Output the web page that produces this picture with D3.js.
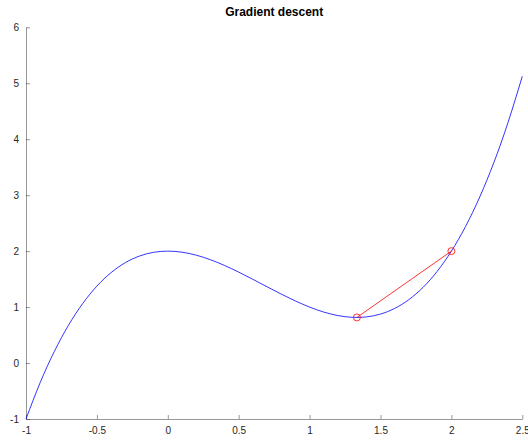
<!DOCTYPE html>
<html><head><meta charset="utf-8">
<script src="https://cdn.jsdelivr.net/npm/d3@7"></script>
<style>body{margin:0;background:#fff}svg{display:block}</style>
</head><body>
<script>
const curveX = [-1,-0.9,-0.8,-0.7,-0.6,-0.5,-0.4,-0.3,-0.2,-0.1,0,0.1,0.2,0.3,0.4,0.5,0.6,0.7,0.8,0.9,1,1.1,1.2,1.3,1.4,1.5,1.6,1.7,1.8,1.9,2,2.1,2.2,2.3,2.4,2.5];
const curveY = [-1,-0.349,0.208,0.677,1.064,1.375,1.616,1.793,1.912,1.979,2,1.981,1.928,1.847,1.744,1.625,1.496,1.363,1.232,1.109,1,0.911,0.848,0.817,0.824,0.875,0.976,1.133,1.352,1.639,2,2.441,2.968,3.587,4.304,5.125];
const stepX = [2, 1.3333];
const stepY = [2, 0.8148];
const xTicks = [-1,-0.5,0,0.5,1,1.5,2,2.5];
const yTicks = [-1,0,1,2,3,4,5,6];
const title = "Gradient descent";

const W = 528, H = 440;
const m = {left: 26, right: 5.7, top: 27.3, bottom: 21};
const svg = d3.select("body").append("svg").attr("width", W).attr("height", H);
const x = d3.scaleLinear().domain([-1, 2.5]).range([m.left, W - m.right]);
const y = d3.scaleLinear().domain([-1, 6]).range([H - m.bottom, m.top]);
const font = "'Liberation Sans', Arial, Helvetica, sans-serif";

const xa = svg.append("g").attr("transform", `translate(0,${y(-1)})`)
  .call(d3.axisBottom(x).tickValues(xTicks).tickSizeInner(-4).tickSizeOuter(0).tickPadding(8).tickFormat(d => String(d)));
const ya = svg.append("g").attr("transform", `translate(${x(-1)},0)`)
  .call(d3.axisLeft(y).tickValues(yTicks).tickSizeInner(-4).tickSizeOuter(0).tickPadding(7).tickFormat(d => String(d)));
[xa, ya].forEach(a => {
  a.select(".domain").attr("stroke", "#262626").attr("stroke-width", 0.8).attr("stroke-opacity", 0.6);
  a.selectAll(".tick line").attr("stroke", "#262626").attr("stroke-width", 0.8).attr("stroke-opacity", 0.6);
  a.selectAll(".tick text").attr("fill", "#262626").style("font-family", font).style("font-size", "10px");
});

const pts = curveX.map((d, i) => [d, curveY[i]]);
svg.append("path").datum(pts)
  .attr("fill", "none").attr("stroke", "#0000ff").attr("stroke-width", 0.8)
  .attr("d", d3.line().x(d => x(d[0])).y(d => y(d[1])).curve(d3.curveNatural));

const sp = stepX.map((d, i) => [d, stepY[i]]);
svg.append("path").datum(sp)
  .attr("fill", "none").attr("stroke", "#ff0000").attr("stroke-width", 0.8)
  .attr("d", d3.line().x(d => x(d[0])).y(d => y(d[1])));
svg.selectAll("circle.s").data(sp).enter().append("circle")
  .attr("cx", d => x(d[0])).attr("cy", d => y(d[1])).attr("r", 3.5)
  .attr("fill", "none").attr("stroke", "#ff0000").attr("stroke-width", 0.8);

svg.append("text").attr("x", (x(-1) + x(2.5)) / 2).attr("y", 16)
  .attr("text-anchor", "middle").style("font-family", font).style("font-size", "12px")
  .style("font-weight", "bold").attr("fill", "#000").text(title);
</script>
</body></html>
